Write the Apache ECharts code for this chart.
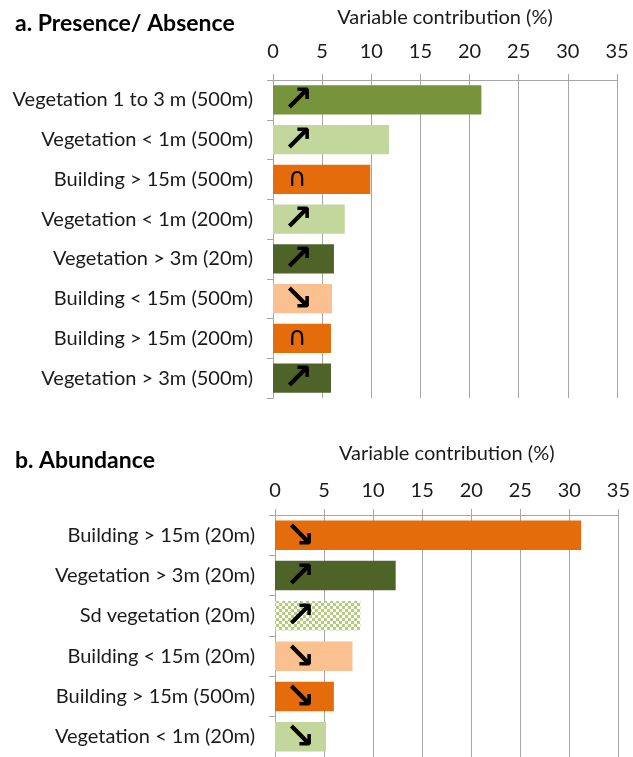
<!DOCTYPE html>
<html>
<head>
<meta charset="utf-8">
<script src="https://cdn.jsdelivr.net/npm/echarts@6/dist/echarts.min.js"></script>
<style>html,body{margin:0;padding:0;background:#fff;}#c{width:633px;height:757px;}</style>
</head>
<body>
<div id="c"></div>
<script>
// ---- data ----
var catsA = ['Vegetation 1 to 3 m (500m)','Vegetation < 1m (500m)','Building > 15m (500m)','Vegetation < 1m (200m)','Vegetation > 3m (20m)','Building < 15m (500m)','Building > 15m (200m)','Vegetation > 3m (500m)'];
var valsA = [21.2, 11.8, 9.9, 7.3, 6.2, 6.0, 5.9, 5.9];
var kindA = ['veg13','veg1','bldHi','veg1','veg3','bldLo','bldHi','veg3'];
var trendA = ['up','up','hump','up','up','down','hump','up'];

var catsB = ['Building > 15m (20m)','Vegetation > 3m (20m)','Sd vegetation (20m)','Building < 15m (20m)','Building > 15m (500m)','Vegetation < 1m (20m)'];
var valsB = [31.2, 12.3, 8.7, 7.9, 6.0, 5.2];
var kindB = ['bldHi','veg3','sdveg','bldLo','bldHi','veg1'];
var trendB = ['down','up','up','down','down','down'];

var xTicks = [0, 5, 10, 15, 20, 25, 30, 35];

// ---- styles ----
var pat = document.createElement('canvas');
pat.width = 6; pat.height = 6;
var pc = pat.getContext('2d');
pc.fillStyle = '#ffffff'; pc.fillRect(0,0,6,6);
pc.fillStyle = '#b2cc80'; pc.fillRect(0,0,3,3); pc.fillRect(3,3,3,3);

var palette = {
  veg13: '#77933C', veg1: '#C3D69B', bldHi: '#E46C0A', veg3: '#4F6228', bldLo: '#FAC090',
  sdveg: {image: pat, repeat: 'repeat'}
};
var glyph = {up: '\u2197', down: '\u2198', hump: '\u2229'};
var FONT = 'Lato, "Open Sans", sans-serif';

function items(vals, kinds, trends) {
  return vals.map(function (v, i) {
    var t = trends[i];
    return {
      value: v,
      itemStyle: {color: palette[kinds[i]]},
      label: {
        show: true,
        formatter: glyph[t],
        position: [t === 'hump' ? 15 : 10, '50%'],
        offset: [0, t === 'hump' ? 0 : 2],
        verticalAlign: 'middle',
        align: 'left',
        color: '#000',
        fontFamily: '"DejaVu Sans", sans-serif',
        fontSize: t === 'hump' ? 26 : 36,
        fontWeight: t === 'hump' ? 'normal' : 'bold'
      }
    };
  });
}

function xAxisCfg(gridIndex, gap, margin) {
  return {
    gridIndex: gridIndex, type: 'value', position: 'top',
    min: 0, max: 35, interval: 5,
    name: 'Variable contribution (%)', nameLocation: 'middle', nameGap: gap,
    nameTextStyle: {fontFamily: FONT, fontSize: 20, color: '#1a1a1a'},
    axisLine: {show: true, lineStyle: {color: '#a6a6a6', width: 1}},
    axisTick: {show: true, length: 6, lineStyle: {color: '#a6a6a6'}},
    axisLabel: {fontFamily: FONT, fontSize: 20, color: '#1a1a1a', margin: margin,
      formatter: function (v) { return xTicks.indexOf(v) >= 0 ? String(v) : ''; }},
    splitLine: {show: true, lineStyle: {color: '#a6a6a6', width: 1}}
  };
}
function yAxisCfg(gridIndex, cats) {
  return {
    gridIndex: gridIndex, type: 'category', data: cats, inverse: true,
    axisLine: {show: true, lineStyle: {color: '#a6a6a6', width: 1}},
    axisTick: {show: true, length: 6, lineStyle: {color: '#a6a6a6'}},
    axisLabel: {fontFamily: FONT, fontSize: 20, color: '#1a1a1a', margin: 20},
    splitLine: {show: false}
  };
}

var chart = echarts.init(document.getElementById('c'), null, {renderer: 'canvas'});
chart.setOption({
  backgroundColor: '#ffffff',
  animation: false,
  title: [
    {text: 'a. Presence/ Absence', left: 10, top: 7, textStyle: {fontFamily: FONT, fontSize: 23, fontWeight: 'bold', color: '#000'}},
    {text: 'b. Abundance', left: 10, top: 444, textStyle: {fontFamily: FONT, fontSize: 23, fontWeight: 'bold', color: '#000'}}
  ],
  grid: [
    {left: 273, right: 16, top: 80, height: 318, containLabel: false},
    {left: 275, right: 12, top: 515, height: 242, containLabel: false}
  ],
  xAxis: [xAxisCfg(0, 52, 18), xAxisCfg(1, 51, 14)],
  yAxis: [yAxisCfg(0, catsA), yAxisCfg(1, catsB)],
  series: [
    {type: 'bar', xAxisIndex: 0, yAxisIndex: 0, barCategoryGap: '27%', data: items(valsA, kindA, trendA)},
    {type: 'bar', xAxisIndex: 1, yAxisIndex: 1, barCategoryGap: '27%', data: items(valsB, kindB, trendB)}
  ]
});
</script>
</body>
</html>
